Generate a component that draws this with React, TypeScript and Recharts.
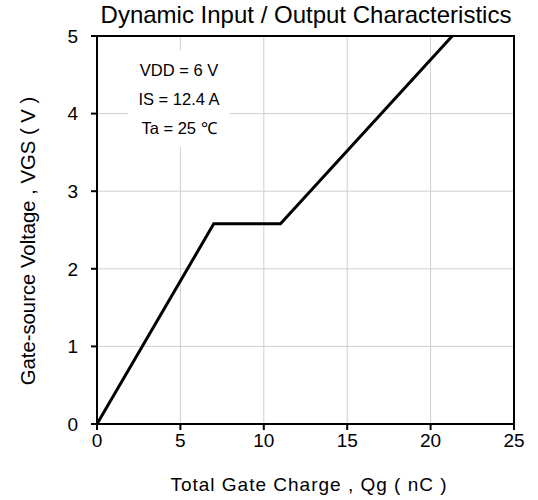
import { LineChart, Line, XAxis, YAxis, CartesianGrid, ReferenceArea } from 'recharts';

// gate charge curve (nC, V)
const charge = [0, 7, 11, 21.3];
const voltage = [0, 2.58, 2.58, 5];
const xTicks = [0, 5, 10, 15, 20, 25];
const yTicks = [0, 1, 2, 3, 4, 5];
const notes = ['VDD = 6 V', 'IS = 12.4 A', 'Ta = 25 \u2103'];

const data = charge.map((q, i) => ({ q, v: voltage[i] }));

const FONT = 'Arial, "Liberation Sans", sans-serif';

export default function App() {
  return (
    <div style={{ position: 'absolute', left: 0, top: 0, width: 538, height: 500, background: '#fff', fontFamily: FONT }}>
      <LineChart
        width={538}
        height={500}
        data={data}
        margin={{ top: 36, right: 24, left: 57, bottom: 16 }}
      >
        <CartesianGrid stroke="#d0d0d0" strokeWidth={1} />
        {/* white box behind the test conditions */}
        <ReferenceArea x1={1.86} x2={7.97} y1={3.57} y2={4.82} fill="#fff" fillOpacity={1} stroke="none" ifOverflow="visible" />
        <XAxis
          type="number"
          dataKey="q"
          domain={[0, 25]}
          ticks={xTicks}
          height={60}
          stroke="#000"
          strokeWidth={2}
          tickSize={6}
          tick={{ fill: '#000', fontSize: 19, fontFamily: FONT }}
          tickMargin={4}
        />
        <YAxis
          type="number"
          domain={[0, 5]}
          ticks={yTicks}
          width={40}
          stroke="#000"
          strokeWidth={2}
          tickSize={6}
          tick={{ fill: '#000', fontSize: 19, fontFamily: FONT }}
          tickMargin={13}
        />
        <Line
          type="linear"
          dataKey="v"
          stroke="#000"
          strokeWidth={3}
          dot={false}
          isAnimationActive={false}
        />
      </LineChart>

      {/* top and right frame */}
      <div style={{ position: 'absolute', left: 96, top: 35, width: 418, height: 1, borderTop: '2px solid #000' }} />
      <div style={{ position: 'absolute', left: 513, top: 35, width: 1, height: 390, borderLeft: '2px solid #000' }} />

      <div style={{ position: 'absolute', left: 96, top: 1, width: 420, textAlign: 'center', fontSize: 24, lineHeight: '28px', color: '#000', whiteSpace: 'nowrap' }}>
        Dynamic Input / Output Characteristics
      </div>
      <div style={{ position: 'absolute', left: 97, top: 474, width: 424, textAlign: 'center', fontSize: 19, lineHeight: '22px', letterSpacing: 1, color: '#000', whiteSpace: 'nowrap' }}>
        Total Gate Charge , Qg ( nC )
      </div>
      <div
        style={{
          position: 'absolute',
          left: 28,
          top: 241,
          transform: 'translate(-50%, -50%) rotate(-90deg)',
          whiteSpace: 'nowrap',
          fontSize: 20.3,
          lineHeight: '22px',
          color: '#000',
        }}
      >
        Gate-source Voltage , VGS ( V )
      </div>
      {notes.map((t, i) => (
        <div
          key={t}
          style={{ position: 'absolute', left: 129, top: 60 + i * 29, width: 100, textAlign: 'center', fontSize: 16.5, lineHeight: '20px', color: '#000' }}
        >
          {t}
        </div>
      ))}
    </div>
  );
}
